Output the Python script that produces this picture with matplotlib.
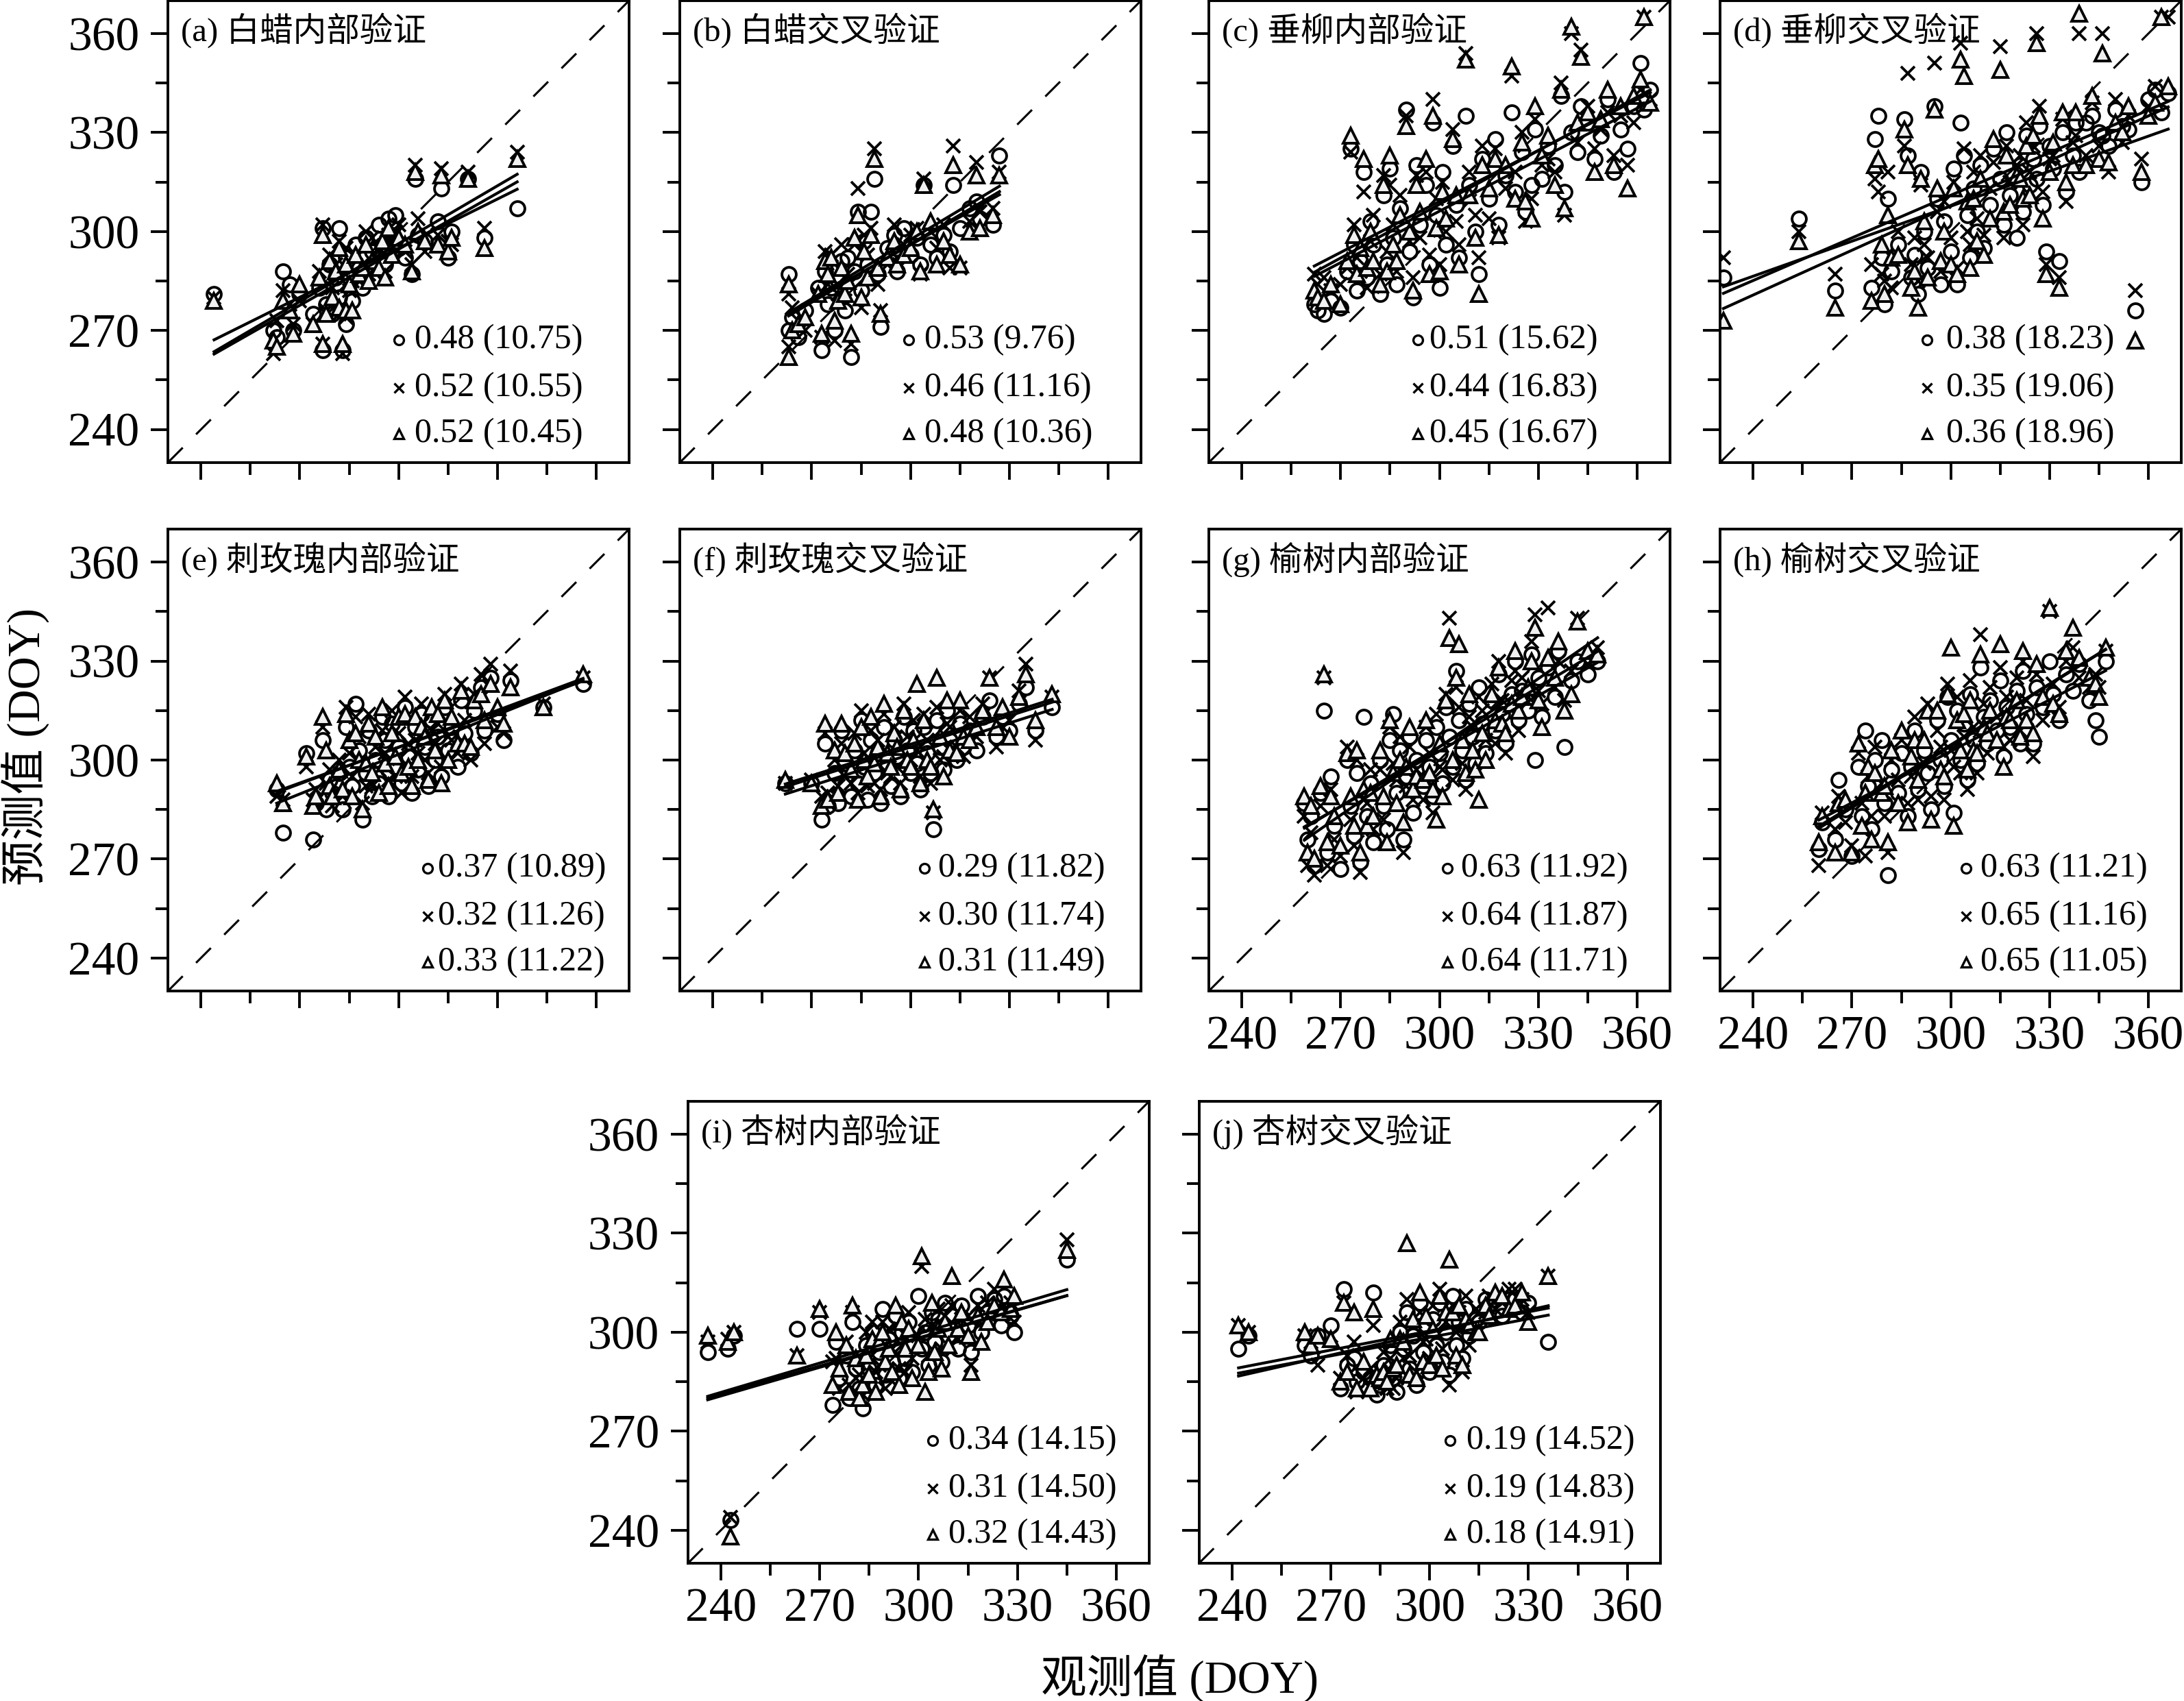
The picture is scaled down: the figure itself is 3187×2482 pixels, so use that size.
import matplotlib
matplotlib.use("Agg")
import matplotlib.pyplot as plt
import numpy as np

plt.rcParams["font.family"] = ["Liberation Serif", "Noto Sans CJK SC"]

# ---- data: observed DOY and predictions of the three models (o, x, triangle) ----
obs_a = [244, 262, 263, 265, 267, 268, 270, 274, 276, 277, 277, 278, 279, 280, 281, 282, 282, 283, 284, 284, 285, 286, 287, 288, 289, 290, 291, 292, 294, 295, 296, 297, 298, 299, 300, 302, 304, 305, 306, 308, 312, 313, 315, 316, 321, 326, 336]
o_a = [281, 270, 268, 288, 284, 270, 281, 275, 283, 264, 301, 278, 290, 275, 286, 301, 280, 264, 292, 272, 286, 279, 296, 289, 283, 298, 289, 294, 302, 296, 290, 304, 299, 305, 295, 292, 287, 316, 299, 297, 303, 313, 292, 300, 316, 298, 307]
x_a = [280, 263, 273, 282, 278, 272, 279, 272, 288, 266, 302, 276, 293, 283, 290, 297, 275, 263, 295, 274, 282, 285, 292, 285, 290, 300, 287, 298, 295, 293, 288, 299, 297, 300, 302, 294, 290, 320, 304, 294, 299, 319, 297, 296, 318, 301, 324]
t_a = [279, 267, 265, 279, 276, 269, 284, 272, 286, 266, 299, 275, 291, 280, 288, 295, 277, 266, 290, 276, 284, 276, 293, 287, 289, 296, 285, 291, 289, 297, 286, 301, 293, 297, 298, 296, 288, 318, 300, 297, 296, 317, 294, 298, 316, 295, 322]

obs_b = [263, 263, 264, 266, 268, 272, 273, 274, 275, 276, 277, 278, 279, 280, 281, 282, 283, 284, 285, 286, 287, 288, 289, 290, 291, 293, 295, 296, 298, 300, 302, 303, 304, 306, 308, 310, 312, 313, 315, 318, 320, 321, 325, 327]
o_b = [287, 270, 274, 268, 276, 283, 264, 288, 278, 283, 270, 285, 291, 276, 292, 262, 288, 306, 282, 297, 290, 306, 316, 287, 271, 295, 299, 288, 301, 293, 298, 290, 314, 296, 292, 299, 294, 314, 301, 307, 309, 304, 302, 323]
x_b = [281, 265, 277, 273, 270, 281, 268, 294, 284, 293, 267, 281, 296, 279, 287, 266, 296, 313, 277, 299, 293, 301, 325, 284, 276, 290, 302, 292, 296, 299, 301, 287, 316, 300, 295, 302, 289, 326, 289, 303, 321, 306, 307, 318]
t_b = [284, 262, 270, 272, 274, 281, 269, 291, 287, 292, 273, 279, 289, 281, 285, 269, 298, 305, 280, 294, 286, 299, 322, 289, 275, 292, 297, 290, 293, 295, 300, 288, 314, 303, 290, 297, 293, 320, 290, 300, 317, 301, 305, 317]

obs_c = [262, 263, 265, 267, 270, 272, 273, 274, 275, 276, 277, 278, 279, 280, 282, 283, 284, 285, 286, 287, 288, 290, 291, 292, 293, 294, 296, 297, 298, 299, 300, 301, 302, 304, 305, 306, 308, 309, 311, 312, 313, 315, 317, 318, 320, 322, 323, 325, 326, 328, 329, 331, 333, 335, 337, 338, 340, 342, 343, 345, 347, 349, 351, 353, 355, 357, 359, 361, 362, 364]
o_c = [278, 276, 275, 279, 277, 288, 325, 296, 282, 291, 318, 286, 303, 296, 281, 311, 290, 319, 298, 284, 307, 337, 294, 280, 320, 302, 314, 290, 333, 305, 283, 318, 296, 326, 308, 292, 335, 314, 300, 287, 322, 310, 328, 302, 317, 336, 312, 324, 306, 314, 331, 316, 326, 320, 341, 312, 330, 324, 338, 333, 322, 329, 340, 318, 331, 325, 338, 351, 337, 343]
x_c = [287, 284, 286, 282, 284, 289, 324, 302, 292, 288, 312, 283, 297, 305, 287, 317, 294, 314, 302, 288, 311, 335, 297, 286, 317, 298, 318, 293, 340, 310, 290, 315, 300, 331, 303, 296, 354, 318, 305, 292, 326, 304, 325, 298, 313, 347, 318, 330, 303, 310, 334, 320, 322, 318, 345, 305, 360, 327, 355, 338, 325, 331, 336, 323, 335, 320, 333, 343, 365, 340]
t_c = [282, 280, 279, 284, 278, 291, 329, 299, 287, 295, 322, 289, 300, 291, 284, 314, 288, 323, 296, 291, 305, 332, 300, 282, 314, 306, 322, 287, 335, 301, 288, 312, 304, 328, 311, 290, 352, 311, 298, 281, 320, 313, 322, 299, 320, 350, 310, 327, 309, 304, 338, 323, 329, 314, 343, 307, 362, 333, 353, 336, 318, 334, 343, 320, 338, 313, 341, 346, 365, 339]

obs_d = [231, 254, 265, 276, 277, 278, 279, 280, 281, 282, 284, 286, 287, 288, 289, 290, 291, 292, 293, 295, 296, 297, 298, 300, 301, 302, 303, 304, 305, 306, 307, 308, 309, 310, 312, 313, 315, 316, 317, 318, 320, 321, 322, 323, 324, 325, 326, 327, 328, 329, 330, 331, 333, 334, 335, 337, 338, 339, 341, 343, 345, 346, 348, 350, 352, 354, 356, 358, 360, 362, 364, 366]
o_d = [286, 304, 282, 283, 328, 335, 292, 278, 310, 288, 296, 334, 323, 286, 293, 281, 318, 300, 289, 338, 310, 284, 303, 294, 319, 284, 333, 323, 305, 292, 313, 300, 320, 295, 308, 325, 316, 302, 330, 311, 298, 320, 306, 329, 314, 322, 316, 332, 308, 294, 326, 319, 291, 330, 312, 323, 333, 318, 333, 335, 330, 329, 326, 337, 332, 331, 276, 315, 340, 343, 336, 342]
x_d = [292, 300, 287, 290, 316, 312, 287, 285, 318, 283, 300, 326, 348, 290, 298, 285, 314, 296, 292, 351, 306, 288, 309, 298, 315, 289, 357, 325, 300, 296, 318, 304, 323, 299, 313, 321, 356, 298, 326, 315, 320, 323, 302, 333, 318, 326, 360, 338, 312, 290, 322, 323, 286, 334, 309, 327, 329, 360, 323, 339, 326, 360, 318, 340, 327, 335, 282, 322, 338, 344, 365, 365]
t_d = [273, 297, 277, 279, 320, 322, 296, 281, 305, 292, 293, 331, 320, 283, 288, 277, 316, 303, 286, 337, 313, 291, 300, 290, 313, 287, 352, 347, 309, 289, 310, 297, 316, 293, 304, 328, 349, 306, 323, 308, 317, 316, 310, 326, 311, 329, 357, 335, 304, 287, 318, 327, 283, 336, 315, 320, 336, 366, 320, 341, 322, 354, 321, 333, 330, 338, 267, 318, 335, 339, 365, 344]

obs_e = [263, 265, 272, 274, 275, 277, 278, 279, 280, 282, 283, 284, 285, 286, 287, 288, 289, 290, 291, 292, 293, 294, 295, 296, 297, 298, 299, 300, 301, 302, 303, 304, 305, 306, 307, 308, 309, 310, 311, 312, 313, 314, 315, 316, 318, 319, 320, 322, 323, 325, 326, 328, 330, 332, 334, 344, 356]
o_e = [291, 278, 302, 276, 287, 306, 285, 294, 290, 296, 285, 310, 298, 292, 317, 303, 282, 296, 309, 289, 300, 293, 313, 306, 289, 311, 298, 304, 293, 316, 301, 290, 310, 297, 314, 304, 292, 312, 300, 307, 295, 316, 303, 310, 298, 318, 308, 302, 315, 322, 309, 325, 314, 306, 324, 316, 323]
x_e = [289, 288, 298, 288, 291, 310, 293, 297, 286, 300, 289, 316, 302, 295, 313, 307, 287, 292, 314, 293, 304, 297, 309, 302, 294, 315, 295, 308, 290, 319, 305, 295, 306, 302, 317, 300, 296, 309, 305, 311, 298, 320, 307, 306, 302, 323, 312, 300, 320, 326, 305, 329, 310, 308, 327, 317, 325]
t_e = [293, 287, 301, 286, 289, 313, 303, 292, 289, 297, 291, 314, 306, 289, 308, 300, 285, 299, 311, 296, 307, 290, 316, 299, 292, 308, 301, 313, 296, 314, 298, 292, 313, 300, 310, 307, 294, 316, 303, 314, 293, 318, 300, 313, 305, 321, 305, 304, 318, 320, 312, 323, 316, 311, 322, 316, 326]

obs_f = [262, 270, 273, 274, 275, 277, 278, 279, 280, 282, 283, 284, 285, 286, 287, 288, 289, 290, 291, 292, 293, 294, 295, 296, 297, 298, 299, 300, 301, 302, 303, 304, 305, 306, 307, 308, 309, 310, 311, 312, 314, 315, 316, 318, 320, 322, 324, 326, 328, 330, 333, 335, 338, 343]
o_f = [293, 293, 282, 305, 286, 296, 287, 309, 299, 289, 303, 293, 312, 298, 288, 306, 296, 302, 287, 310, 299, 292, 306, 301, 289, 313, 303, 296, 309, 299, 291, 310, 302, 296, 279, 312, 304, 297, 315, 306, 300, 311, 304, 309, 303, 313, 318, 307, 313, 309, 317, 322, 309, 316]
x_f = [293, 294, 289, 308, 290, 300, 292, 305, 295, 293, 308, 290, 315, 302, 292, 309, 293, 306, 291, 314, 296, 295, 310, 298, 293, 317, 307, 300, 312, 303, 295, 314, 306, 293, 284, 316, 300, 301, 311, 310, 304, 315, 301, 313, 307, 317, 325, 304, 310, 312, 321, 329, 306, 319]
t_f = [294, 293, 286, 311, 288, 303, 290, 311, 302, 297, 305, 288, 310, 300, 295, 313, 299, 304, 289, 317, 302, 298, 308, 304, 291, 315, 300, 298, 306, 323, 293, 312, 300, 298, 285, 325, 307, 295, 318, 303, 302, 318, 307, 306, 310, 315, 325, 310, 316, 307, 319, 326, 312, 320]

obs_g = [259, 260, 261, 262, 264, 265, 266, 267, 268, 270, 272, 273, 274, 275, 276, 277, 278, 279, 280, 282, 283, 284, 285, 286, 287, 288, 289, 290, 291, 292, 293, 295, 296, 297, 298, 299, 300, 301, 302, 303, 304, 305, 306, 307, 308, 309, 310, 311, 312, 313, 314, 316, 317, 318, 319, 320, 322, 323, 324, 325, 327, 328, 329, 330, 331, 333, 335, 336, 338, 340, 342, 345, 348]
o_g = [287, 276, 283, 268, 290, 315, 272, 295, 280, 267, 300, 286, 277, 296, 269, 313, 283, 293, 275, 300, 286, 279, 306, 314, 290, 303, 276, 295, 307, 284, 300, 292, 306, 298, 289, 310, 302, 293, 316, 307, 298, 327, 312, 303, 294, 317, 307, 299, 322, 311, 302, 318, 309, 326, 314, 305, 320, 330, 312, 321, 315, 332, 300, 325, 313, 328, 319, 333, 304, 324, 330, 326, 330]
x_g = [283, 268, 278, 265, 286, 325, 268, 291, 276, 271, 304, 282, 274, 300, 266, 288, 287, 297, 279, 297, 282, 276, 310, 299, 294, 307, 272, 292, 304, 288, 297, 288, 310, 302, 284, 314, 298, 297, 320, 343, 294, 322, 316, 299, 291, 313, 310, 302, 319, 315, 306, 323, 305, 330, 318, 302, 324, 327, 309, 325, 319, 336, 344, 321, 317, 346, 322, 330, 318, 327, 343, 329, 334]
t_g = [289, 272, 286, 270, 292, 326, 275, 289, 283, 274, 302, 289, 280, 303, 272, 291, 280, 290, 283, 303, 289, 275, 312, 296, 287, 300, 281, 298, 310, 291, 295, 294, 312, 296, 291, 282, 305, 289, 318, 337, 300, 325, 335, 306, 296, 320, 303, 297, 288, 308, 300, 320, 312, 328, 311, 308, 317, 333, 315, 319, 322, 330, 340, 318, 310, 331, 325, 336, 315, 320, 342, 333, 332]

obs_h = [260, 261, 265, 266, 268, 270, 272, 273, 274, 275, 276, 277, 279, 280, 281, 282, 284, 285, 287, 288, 289, 290, 292, 293, 294, 296, 297, 298, 299, 300, 301, 302, 303, 304, 305, 306, 307, 308, 309, 310, 311, 312, 314, 315, 316, 317, 318, 320, 321, 322, 323, 325, 326, 328, 330, 331, 333, 335, 337, 339, 342, 344, 345, 347]
o_h = [273, 281, 276, 294, 285, 271, 298, 283, 309, 292, 279, 300, 306, 287, 265, 297, 290, 302, 283, 298, 309, 291, 303, 296, 285, 312, 300, 292, 319, 306, 284, 315, 300, 311, 294, 320, 306, 299, 328, 313, 305, 318, 309, 324, 301, 316, 310, 321, 305, 327, 314, 305, 322, 316, 330, 320, 312, 326, 321, 329, 318, 312, 307, 330]
x_h = [268, 284, 279, 289, 281, 274, 302, 287, 271, 295, 283, 304, 293, 283, 272, 300, 294, 306, 287, 295, 313, 288, 299, 317, 289, 309, 304, 288, 323, 303, 298, 319, 296, 307, 291, 324, 310, 296, 338, 317, 302, 322, 313, 328, 304, 319, 306, 325, 309, 330, 318, 301, 326, 312, 345, 323, 316, 330, 334, 325, 322, 326, 322, 333]
t_h = [275, 283, 272, 287, 288, 272, 305, 280, 290, 298, 276, 296, 290, 292, 275, 303, 287, 309, 281, 301, 306, 294, 306, 315, 282, 315, 297, 295, 320, 334, 280, 312, 303, 314, 297, 318, 303, 302, 332, 310, 308, 315, 306, 335, 298, 313, 312, 318, 307, 333, 312, 308, 329, 319, 346, 317, 314, 333, 340, 331, 325, 323, 319, 334]

obs_i = [236, 242, 243, 244, 263, 270, 274, 275, 276, 278, 279, 280, 281, 282, 283, 284, 285, 286, 287, 288, 289, 290, 291, 292, 293, 294, 295, 296, 297, 298, 300, 301, 302, 303, 304, 305, 306, 307, 308, 309, 310, 312, 313, 315, 316, 318, 319, 321, 323, 325, 326, 328, 329, 345]
o_i = [294, 295, 243, 299, 301, 301, 278, 297, 286, 293, 280, 303, 289, 283, 277, 296, 289, 300, 284, 294, 307, 287, 298, 291, 305, 286, 300, 292, 303, 288, 311, 295, 300, 290, 306, 297, 304, 291, 309, 299, 305, 295, 308, 302, 294, 311, 300, 306, 310, 302, 311, 305, 300, 322]
x_i = [297, 298, 244, 300, 293, 306, 291, 292, 283, 297, 284, 306, 286, 287, 281, 300, 292, 303, 288, 290, 303, 283, 301, 295, 302, 289, 296, 288, 306, 292, 299, 320, 304, 293, 302, 301, 307, 295, 305, 302, 308, 298, 304, 305, 290, 308, 303, 309, 313, 305, 308, 309, 303, 328]
t_i = [299, 297, 238, 300, 293, 307, 284, 300, 289, 296, 282, 308, 292, 280, 284, 293, 287, 298, 282, 297, 300, 291, 295, 288, 308, 284, 303, 295, 301, 286, 296, 323, 282, 288, 309, 294, 301, 289, 303, 296, 317, 301, 306, 299, 288, 305, 297, 303, 308, 306, 316, 307, 311, 325]

obs_j = [242, 245, 262, 264, 266, 270, 273, 274, 275, 277, 278, 280, 282, 283, 284, 285, 286, 287, 288, 289, 290, 291, 292, 293, 294, 295, 296, 297, 298, 299, 300, 301, 302, 303, 304, 305, 306, 307, 308, 309, 310, 311, 312, 314, 315, 317, 318, 320, 322, 324, 326, 328, 330, 336]
o_j = [295, 299, 296, 293, 299, 302, 283, 313, 290, 292, 285, 288, 286, 312, 281, 284, 290, 287, 296, 286, 282, 300, 295, 306, 289, 299, 284, 309, 294, 302, 288, 304, 296, 309, 291, 300, 287, 311, 296, 303, 292, 307, 299, 304, 303, 310, 308, 310, 305, 310, 310, 306, 309, 297]
x_j = [302, 300, 299, 297, 290, 299, 286, 309, 293, 297, 282, 286, 289, 302, 285, 288, 294, 283, 292, 283, 286, 303, 292, 310, 293, 302, 288, 306, 297, 298, 292, 308, 299, 313, 295, 303, 284, 308, 300, 306, 288, 311, 296, 307, 306, 306, 311, 307, 309, 313, 313, 310, 306, 317]
t_j = [302, 300, 300, 296, 299, 298, 285, 309, 288, 306, 283, 291, 283, 307, 287, 286, 288, 285, 298, 289, 290, 298, 297, 327, 287, 304, 286, 312, 291, 305, 290, 301, 293, 311, 289, 306, 322, 306, 293, 308, 290, 304, 302, 300, 300, 308, 305, 312, 311, 307, 308, 312, 303, 317]

# R2 and RMSE printed in each panel (o, x, triangle)
r2_vals = [[0.48, 0.52, 0.52], [0.53, 0.46, 0.48], [0.51, 0.44, 0.45], [0.38, 0.35, 0.36],
           [0.37, 0.32, 0.33], [0.29, 0.30, 0.31], [0.63, 0.64, 0.64], [0.63, 0.65, 0.65],
           [0.34, 0.31, 0.32], [0.19, 0.19, 0.18]]
rmse_vals = [[10.75, 10.55, 10.45], [9.76, 11.16, 10.36], [15.62, 16.83, 16.67], [18.23, 19.06, 18.96],
             [10.89, 11.26, 11.22], [11.82, 11.74, 11.49], [11.92, 11.87, 11.71], [11.21, 11.16, 11.05],
             [14.15, 14.50, 14.43], [14.52, 14.83, 14.91]]

titles = ["(a) 白蜡内部验证", "(b) 白蜡交叉验证", "(c) 垂柳内部验证", "(d) 垂柳交叉验证",
          "(e) 刺玫瑰内部验证", "(f) 刺玫瑰交叉验证", "(g) 榆树内部验证", "(h) 榆树交叉验证",
          "(i) 杏树内部验证", "(j) 杏树交叉验证"]

panels = [
    (obs_a, o_a, x_a, t_a), (obs_b, o_b, x_b, t_b), (obs_c, o_c, x_c, t_c), (obs_d, o_d, x_d, t_d),
    (obs_e, o_e, x_e, t_e), (obs_f, o_f, x_f, t_f), (obs_g, o_g, x_g, t_g), (obs_h, o_h, x_h, t_h),
    (obs_i, o_i, x_i, t_i), (obs_j, o_j, x_j, t_j),
]

# ---- layout (figure fractions) ----
W, H = 0.2112, 0.2716
rects = [
    (0.0769, 0.7281), (0.3113, 0.7281), (0.5535, 0.7281), (0.7876, 0.7281),
    (0.0769, 0.4174), (0.3113, 0.4174), (0.5535, 0.4174), (0.7876, 0.4174),
    (0.3150, 0.0810), (0.5490, 0.0810),
]
show_xlab = [False, False, False, False, False, False, True, True, True, True]
show_ylab = [True, False, False, False, True, False, False, False, True, False]
# x position of legend marker / text in axes fraction
ann_x = [(0.50, 0.535), (0.496, 0.53), (0.453, 0.478), (0.449, 0.49), (0.563, 0.585),
         (0.53, 0.56), (0.517, 0.547), (0.533, 0.565), (0.53, 0.565), (0.545, 0.58)]
ann_y = [0.265, 0.162, 0.062]

markers = ["o", "x", "^"]
faces = ["none", "none", "#f0f0f0"]
sizes = [15, 15, 16]

fig = plt.figure(figsize=(31.87, 24.82), dpi=100)

for k, (obs, po, px, pt) in enumerate(panels):
    ax = fig.add_axes([rects[k][0], rects[k][1], W, H])
    obs = np.array(obs, dtype=float)

    # 1:1 line
    ax.axline((240, 240), slope=1, color="k", lw=2.2, linestyle=(0, (10, 9)), zorder=1)

    for pred, mk, fc, sz in zip([po, px, pt], markers, faces, sizes):
        ax.plot(obs, pred, linestyle="none", marker=mk, ms=sz, mfc=fc, mec="k", mew=2.8, zorder=2)

    # fitted lines
    xs = np.array([obs.min(), obs.max()])
    for pred in [po, px, pt]:
        slope, icpt = np.polyfit(obs, np.array(pred, dtype=float), 1)
        ax.plot(xs, slope * xs + icpt, color="k", lw=3, zorder=3)

    ax.set_xlim(230, 370)
    ax.set_ylim(230, 370)
    ax.set_xticks([240, 270, 300, 330, 360])
    ax.set_yticks([240, 270, 300, 330, 360])
    ax.set_xticks([255, 285, 315, 345], minor=True)
    ax.set_yticks([255, 285, 315, 345], minor=True)
    ax.tick_params(which="major", direction="out", length=18, width=2.8, labelsize=50)
    ax.tick_params(which="minor", direction="out", length=13, width=2.8)
    ax.tick_params(axis="x", pad=8, labelbottom=show_xlab[k])
    ax.tick_params(axis="y", pad=12, labelleft=show_ylab[k])
    for sp in ax.spines.values():
        sp.set_linewidth(2.8)

    ax.text(0.028, 0.935, titles[k], transform=ax.transAxes, fontsize=35, va="center", ha="left")

    mx, tx = ann_x[k]
    for j in range(3):
        ax.plot(mx, ann_y[j], marker=markers[j], ms=10, mfc="none", mec="k", mew=2.4,
                transform=ax.transAxes, clip_on=False)
        ax.text(tx, ann_y[j], f"{r2_vals[k][j]:.2f} ({rmse_vals[k][j]:.2f})", transform=ax.transAxes,
                fontsize=36, va="center", ha="left")

fig.text(0.0116, 0.561, "预测值 (DOY)", rotation=90, fontsize=48, ha="center", va="center")
fig.text(0.5403, 0.0135, "观测值 (DOY)", fontsize=48, ha="center", va="center")

fig.savefig("out.png", dpi=100)
